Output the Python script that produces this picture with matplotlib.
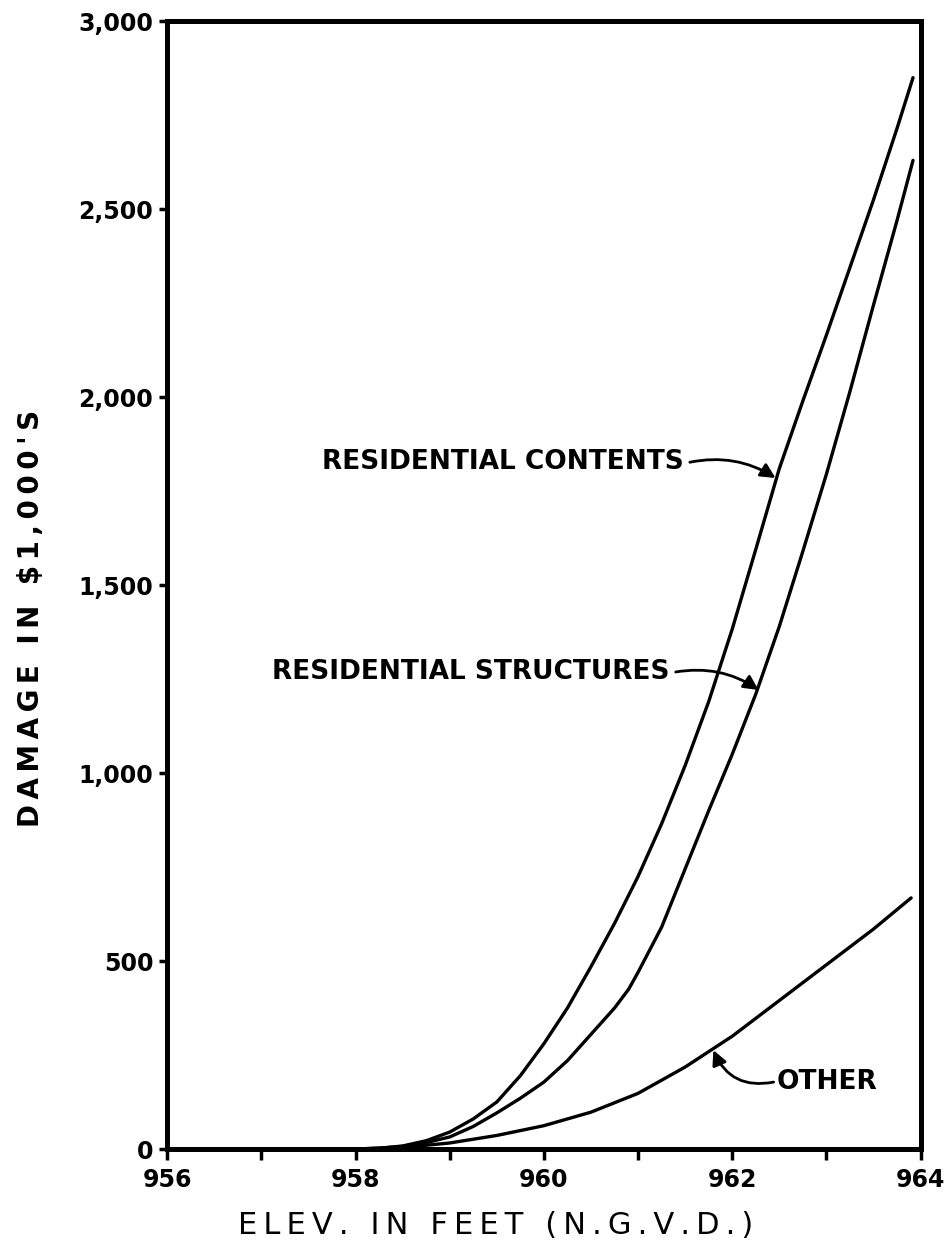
import matplotlib
matplotlib.use("Agg")
import matplotlib.pyplot as plt

# elevation (ft) and damage ($1,000's)
elev = [958, 958.25, 958.5, 958.75, 959, 959.25, 959.5, 959.75, 960, 960.25, 960.5,
        960.75, 961, 961.25, 961.5, 961.75, 962, 962.25, 962.5, 962.75, 963,
        963.25, 963.5, 963.75, 963.92]
contents = [0, 2, 8, 22, 45, 80, 125, 195, 280, 375, 485,
            600, 725, 865, 1020, 1190, 1383, 1595, 1810, 1990, 2165,
            2345, 2525, 2715, 2850]
struct_elev = [958, 958.25, 958.5, 958.75, 959, 959.25, 959.5, 959.75, 960, 960.25, 960.5,
               960.75, 960.9, 961, 961.25, 961.5, 961.75, 962, 962.25, 962.5, 962.75,
               963, 963.25, 963.5, 963.75, 963.92]
structures = [0, 2, 7, 17, 32, 60, 96, 135, 178, 235, 305,
              375, 425, 470, 590, 745, 900, 1050, 1210, 1390, 1590,
              1795, 2015, 2245, 2470, 2630]
other_elev = [958, 958.5, 959, 959.5, 960, 960.5, 961, 961.5, 962, 962.5, 963, 963.5, 963.9]
other = [0, 4, 16, 36, 62, 98, 148, 218, 300, 395, 490, 585, 668]

x_ticks = [956, 957, 958, 959, 960, 961, 962, 963, 964]
x_labels = ["956", "", "958", "", "960", "", "962", "", "964"]
y_ticks = [0, 500, 1000, 1500, 2000, 2500, 3000]
y_labels = ["0", "500", "1,000", "1,500", "2,000", "2,500", "3,000"]

THIN = "\u2009"


def spaced(s):
    # spread the letters a bit, like hand lettering
    return THIN.join(s)


fig = plt.figure(figsize=(9.5, 12.53), dpi=100)
ax = fig.add_axes([0.176, 0.083, 0.793, 0.9])

for xs, ys in [(elev, contents), (struct_elev, structures), (other_elev, other)]:
    ax.plot(xs, ys, color="black", lw=2.4, solid_capstyle="round", clip_on=False)

ax.set_xlim(956, 964)
ax.set_ylim(0, 3000)
ax.set_xticks(x_ticks)
ax.set_xticklabels(x_labels, fontsize=17, fontweight="bold")
ax.set_yticks(y_ticks)
ax.set_yticklabels(y_labels, fontsize=17, fontweight="bold")
ax.tick_params(axis="x", direction="out", length=8, width=2.5, pad=6)
ax.tick_params(axis="y", direction="out", length=6, width=2.5, pad=4)
for sp in ax.spines.values():
    sp.set_linewidth(3.6)

fig.text(496 / 950, 1 - 1225 / 1253, spaced("ELEV. IN FEET (N.G.V.D.)"),
         fontsize=22, ha="center", va="center")
fig.text(31 / 950, 1 - 618 / 1253, spaced("DAMAGE IN $1,000'S"),
         fontsize=20, fontweight="bold", rotation=90, ha="center", va="center")

# curve labels with curved arrows
lab = dict(fontsize=19, fontweight="bold", va="center")
arr = dict(arrowstyle="-|>", color="black", lw=2, mutation_scale=22, shrinkA=0, shrinkB=0)

ax.text(961.49, 1827, "RESIDENTIAL CONTENTS", ha="right", **lab)
ax.annotate("", xy=(962.46, 1785), xytext=(961.55, 1827),
            arrowprops=dict(connectionstyle="arc3,rad=-0.2", **arr))

ax.text(961.33, 1269, "RESIDENTIAL STRUCTURES", ha="right", **lab)
ax.annotate("", xy=(962.28, 1221), xytext=(961.4, 1269),
            arrowprops=dict(connectionstyle="arc3,rad=-0.2", **arr))

ax.text(962.47, 178, "OTHER", ha="left", **lab)
ax.annotate("", xy=(961.8, 263), xytext=(962.44, 178),
            arrowprops=dict(connectionstyle="arc3,rad=-0.4", **arr))

fig.savefig("out.png", dpi=100)
plt.close(fig)
